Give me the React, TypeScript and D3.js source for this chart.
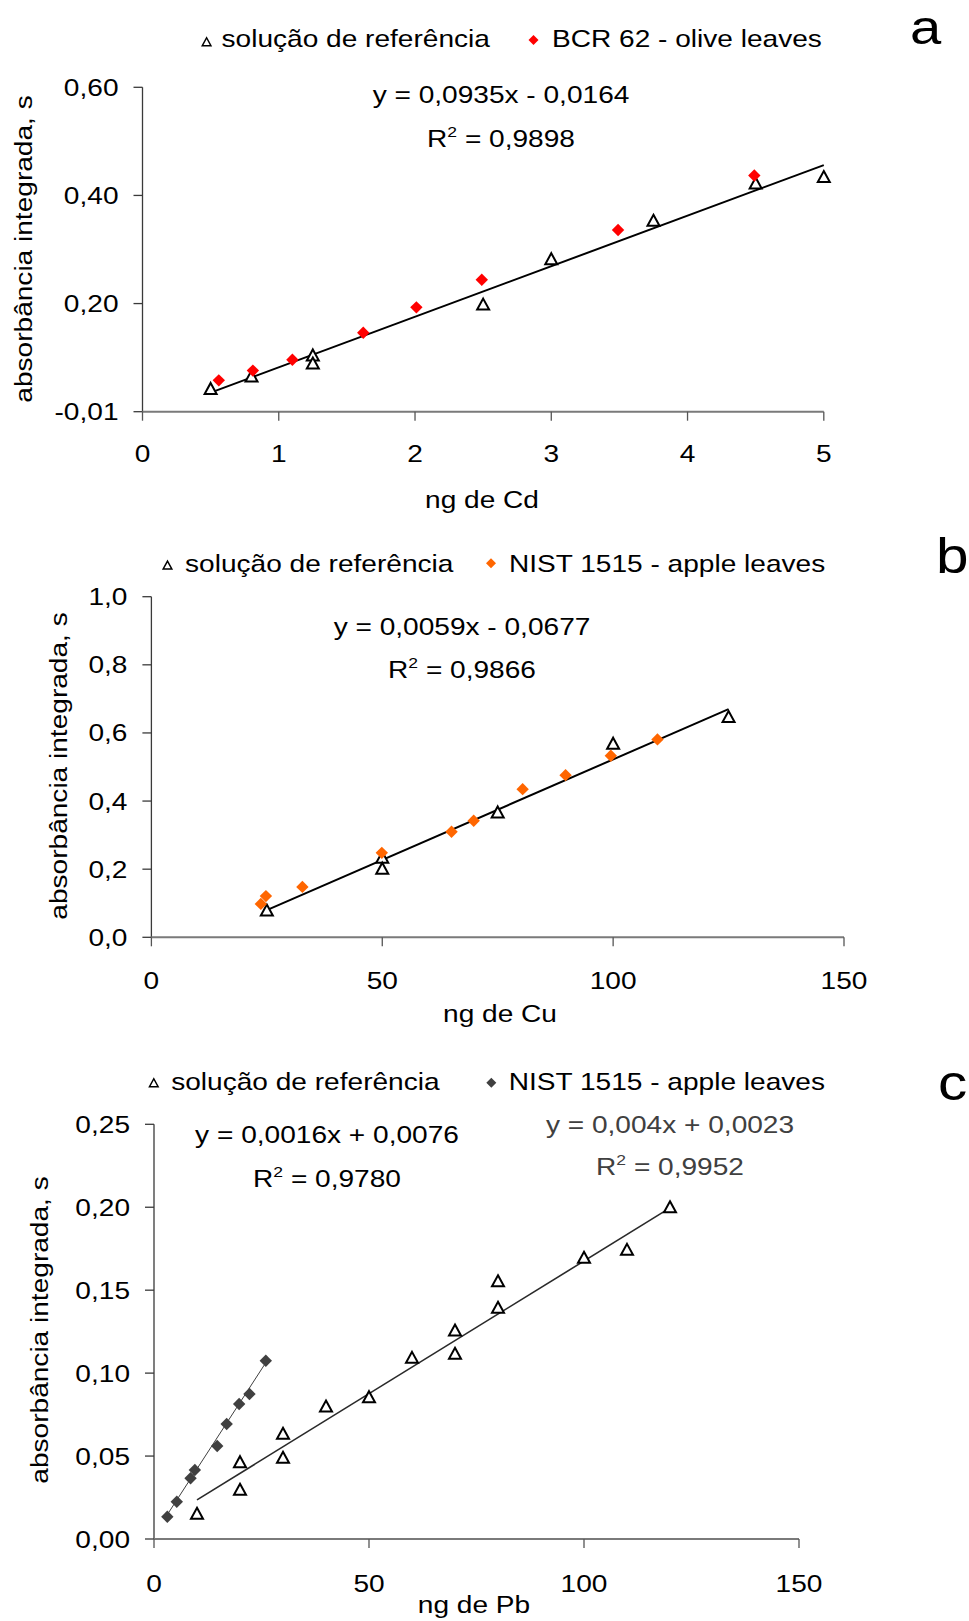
import React from "react";
import * as d3 from "d3";

const FONT = "'Liberation Sans', Arial, Helvetica, sans-serif";
const SX = 1.17;

// ---------- Panel a: Cd ----------
const cdRefX = [0.5, 0.8, 1.25, 1.25, 2.5, 3, 3.75, 4.5, 5];
const cdRefY = [0.038, 0.061, 0.1, 0.085, 0.194, 0.278, 0.349, 0.418, 0.43];
const cdBcrX = [0.56, 0.81, 1.1, 1.62, 2.01, 2.49, 3.49, 4.49];
const cdBcrY = [0.053, 0.071, 0.091, 0.141, 0.188, 0.239, 0.331, 0.432];
const cdXTicks = [0, 1, 2, 3, 4, 5];
const cdXTickLabels = ["0", "1", "2", "3", "4", "5"];
const cdYTicks = [-0.005, 0.195, 0.395, 0.595];
const cdYTickLabels = ["-0,01", "0,20", "0,40", "0,60"];
const cdFit = [0.0935, -0.0164, 0.5, 5];

// ---------- Panel b: Cu ----------
const cuRefX = [25, 50, 50, 75, 100, 125];
const cuRefY = [0.08, 0.235, 0.203, 0.368, 0.57, 0.648];
const cuNistX = [23.7, 24.8, 32.7, 49.9, 65.0, 69.8, 80.4, 89.7, 99.5, 109.6];
const cuNistY = [0.098, 0.121, 0.148, 0.248, 0.31, 0.342, 0.435, 0.476, 0.533, 0.581];
const cuXTicks = [0, 50, 100, 150];
const cuXTickLabels = ["0", "50", "100", "150"];
const cuYTicks = [0, 0.2, 0.4, 0.6, 0.8, 1.0];
const cuYTickLabels = ["0,0", "0,2", "0,4", "0,6", "0,8", "1,0"];
const cuFit = [0.0059, -0.0677, 25, 125];

// ---------- Panel c: Pb ----------
const pbRefX = [10, 20, 20, 30, 30, 40, 50, 60, 70, 70, 80, 80, 100, 110, 120];
const pbRefY = [0.0155, 0.0466, 0.03, 0.0637, 0.0493, 0.0802, 0.0858, 0.1095, 0.126, 0.112, 0.1557, 0.1397, 0.1698, 0.1746, 0.2003];
const pbNistX = [3.1, 5.3, 8.5, 9.5, 14.7, 16.9, 19.8, 22.2, 26.0];
const pbNistY = [0.0134, 0.0225, 0.0366, 0.0416, 0.0561, 0.0693, 0.0814, 0.0874, 0.1075];
const pbXTicks = [0, 50, 100, 150];
const pbXTickLabels = ["0", "50", "100", "150"];
const pbYTicks = [0, 0.05, 0.1, 0.15, 0.2, 0.25];
const pbYTickLabels = ["0,00", "0,05", "0,10", "0,15", "0,20", "0,25"];
const pbRefFit = [0.0016, 0.0076, 10, 120];
const pbNistFit = [0.004, 0.0023, 3, 26];

const zip = (xs: number[], ys: number[]) => xs.map((x, i) => [x, ys[i]] as [number, number]);

type TxtProps = {
  x: number; y: number; anchor?: string; size?: number; fill?: string;
  rotate?: boolean; children?: React.ReactNode;
};
const Txt = ({ x, y, anchor = "start", size = 24, fill = "#000", rotate = false, children }: TxtProps) => (
  <text
    transform={`translate(${x},${y})${rotate ? " rotate(-90)" : ""} scale(${SX},1)`}
    textAnchor={anchor}
    fontSize={size}
    fontFamily={FONT}
    fill={fill}
  >
    {children}
  </text>
);

const Tri = ({ x, y, s = 1, sw = 2 }: { x: number; y: number; s?: number; sw?: number }) => (
  <path
    d={`M${x},${y - 5.5 * s} L${x + 6 * s},${y + 5.5 * s} L${x - 6 * s},${y + 5.5 * s} Z`}
    fill="#fff"
    stroke="#000"
    strokeWidth={sw}
    strokeLinejoin="miter"
  />
);
const Dia = ({ x, y, r = 6.2, fill }: { x: number; y: number; r?: number; fill: string }) => (
  <path d={`M${x},${y - r} L${x + r},${y} L${x},${y + r} L${x - r},${y} Z`} fill={fill} />
);

type Fit = { coef: number[]; color: string; width: number };
type PanelCfg = {
  xDomain: [number, number]; xRange: [number, number];
  yDomain: [number, number]; yRange: [number, number];
  xTicks: number[]; xTickLabels: string[]; yTicks: number[]; yTickLabels: string[];
  xLabelBase: number; xTitle: string; xTitleX: number; xTitleY: number;
  yTitleX: number; yTitleY: number;
  tri: [number, number][]; dia: [number, number][]; diaColor: string;
  fits: Fit[];
};

const Panel = ({ c }: { c: PanelCfg }) => {
  const x = d3.scaleLinear().domain(c.xDomain).range(c.xRange);
  const y = d3.scaleLinear().domain(c.yDomain).range(c.yRange);
  const line = d3.line<[number, number]>().x((d) => x(d[0])).y((d) => y(d[1]));
  const x0 = c.xRange[0];
  const yb = c.yRange[0];
  return (
    <g>
      {/* y axis */}
      <line x1={x0} x2={x0} y1={c.yRange[1]} y2={yb} stroke="#3a3a3a" strokeWidth={1.3} />
      {c.yTicks.map((t, i) => (
        <g key={"yt" + i}>
          <line x1={x0 - 9} x2={x0} y1={y(t)} y2={y(t)} stroke="#3a3a3a" strokeWidth={1.3} />
          <Txt x={x0 - 24} y={y(t) + 8.5} anchor="end">{c.yTickLabels[i]}</Txt>
        </g>
      ))}
      {/* x axis */}
      <line x1={x0} x2={c.xRange[1]} y1={yb} y2={yb} stroke="#7a7a7a" strokeWidth={2} />
      {c.xTicks.map((t, i) => (
        <g key={"xt" + i}>
          <line x1={x(t)} x2={x(t)} y1={yb} y2={yb + 9} stroke="#555" strokeWidth={1.3} />
          <Txt x={x(t)} y={c.xLabelBase} anchor="middle">{c.xTickLabels[i]}</Txt>
        </g>
      ))}
      <Txt x={c.xTitleX} y={c.xTitleY} anchor="middle">{c.xTitle}</Txt>
      <Txt x={c.yTitleX} y={c.yTitleY} anchor="middle" rotate>absorbância integrada, s</Txt>
      {/* trend lines */}
      {c.fits.map((f, i) => {
        const [m, b, a0, a1] = f.coef;
        const pts: [number, number][] = [[a0, m * a0 + b], [a1, m * a1 + b]];
        return <path key={"f" + i} d={line(pts) || ""} stroke={f.color} strokeWidth={f.width} fill="none" />;
      })}
      {c.tri.map((d, i) => <Tri key={"t" + i} x={x(d[0])} y={y(d[1])} />)}
      {c.dia.map((d, i) => <Dia key={"d" + i} x={x(d[0])} y={y(d[1])} fill={c.diaColor} />)}
    </g>
  );
};

const panelA: PanelCfg = {
  xDomain: [0, 5], xRange: [142.5, 823.8],
  yDomain: [-0.005, 0.595], yRange: [411.7, 87.3],
  xTicks: cdXTicks, xTickLabels: cdXTickLabels, yTicks: cdYTicks, yTickLabels: cdYTickLabels,
  xLabelBase: 461.5, xTitle: "ng de Cd", xTitleX: 482, xTitleY: 508,
  yTitleX: 32, yTitleY: 249,
  tri: zip(cdRefX, cdRefY), dia: zip(cdBcrX, cdBcrY), diaColor: "#ff0000",
  fits: [{ coef: cdFit, color: "#000", width: 2 }],
};
const panelB: PanelCfg = {
  xDomain: [0, 150], xRange: [151.4, 844],
  yDomain: [0, 1], yRange: [937.3, 596.7],
  xTicks: cuXTicks, xTickLabels: cuXTickLabels, yTicks: cuYTicks, yTickLabels: cuYTickLabels,
  xLabelBase: 989, xTitle: "ng de Cu", xTitleX: 500, xTitleY: 1021.5,
  yTitleX: 67, yTitleY: 766,
  tri: zip(cuRefX, cuRefY), dia: zip(cuNistX, cuNistY), diaColor: "#ff6600",
  fits: [{ coef: cuFit, color: "#000", width: 2 }],
};
const panelC: PanelCfg = {
  xDomain: [0, 150], xRange: [154, 799],
  yDomain: [0, 0.25], yRange: [1539, 1124.3],
  xTicks: pbXTicks, xTickLabels: pbXTickLabels, yTicks: pbYTicks, yTickLabels: pbYTickLabels,
  xLabelBase: 1591.5, xTitle: "ng de Pb", xTitleX: 474, xTitleY: 1613,
  yTitleX: 48, yTitleY: 1330,
  tri: zip(pbRefX, pbRefY), dia: zip(pbNistX, pbNistY), diaColor: "#404040",
  fits: [
    { coef: pbRefFit, color: "#2a2a2a", width: 1.6 },
    { coef: pbNistFit, color: "#404040", width: 1 },
  ],
};

const Legend = ({ tx, ty, base, label1, dx, dy, label2, color, t1x, t2x }: any) => (
  <g>
    <Tri x={tx} y={ty} s={0.72} sw={1.5} />
    <Txt x={t1x} y={base}>{label1}</Txt>
    <Dia x={dx} y={dy} r={5} fill={color} />
    <Txt x={t2x} y={base}>{label2}</Txt>
  </g>
);

const Eq = ({ cx, y1, y2, eq, r2, fill = "#000" }: any) => (
  <g>
    <Txt x={cx} y={y1} anchor="middle" fill={fill}>{eq}</Txt>
    <text transform={`translate(${cx},${y2}) scale(${SX},1)`} textAnchor="middle" fontSize={24} fontFamily={FONT} fill={fill}>
      R<tspan fontSize={15} dy={-10}>2</tspan><tspan dy={10}>{" = " + r2}</tspan>
    </text>
  </g>
);

export default function App() {
  return (
    <svg width={969} height={1621} style={{ position: "absolute", left: 0, top: 0, background: "#fff" }}>
      <rect x={0} y={0} width={969} height={1621} fill="#fff" />
      {/* panel a */}
      <Legend tx={206.6} ty={41.7} base={46.7} t1x={221.5} label1="solução de referência"
        dx={533.5} dy={40} t2x={552} label2="BCR 62 - olive leaves" color="#ff0000" />
      <Txt x={910} y={44} size={48}>a</Txt>
      <Eq cx={501} y1={103.3} y2={146.7} eq="y = 0,0935x - 0,0164" r2="0,9898" />
      <Panel c={panelA} />

      {/* panel b */}
      <Legend tx={167.5} ty={565} base={571.7} t1x={185} label1="solução de referência"
        dx={491} dy={563.3} t2x={509} label2="NIST 1515 - apple leaves" color="#ff6600" />
      <Txt x={936} y={573.3} size={50}>b</Txt>
      <Eq cx={462} y1={635} y2={678.3} eq="y = 0,0059x - 0,0677" r2="0,9866" />
      <Panel c={panelB} />

      {/* panel c */}
      <Legend tx={153.8} ty={1082.7} base={1090} t1x={171.2} label1="solução de referência"
        dx={491.3} dy={1082.7} t2x={508.7} label2="NIST 1515 - apple leaves" color="#404040" />
      <Txt x={938} y={1100} size={50}>c</Txt>
      <Eq cx={327} y1={1143} y2={1186.7} eq="y = 0,0016x + 0,0076" r2="0,9780" />
      <Eq cx={670} y1={1133.3} y2={1175} eq="y = 0,004x + 0,0023" r2="0,9952" fill="#404040" />
      <Panel c={panelC} />
    </svg>
  );
}
